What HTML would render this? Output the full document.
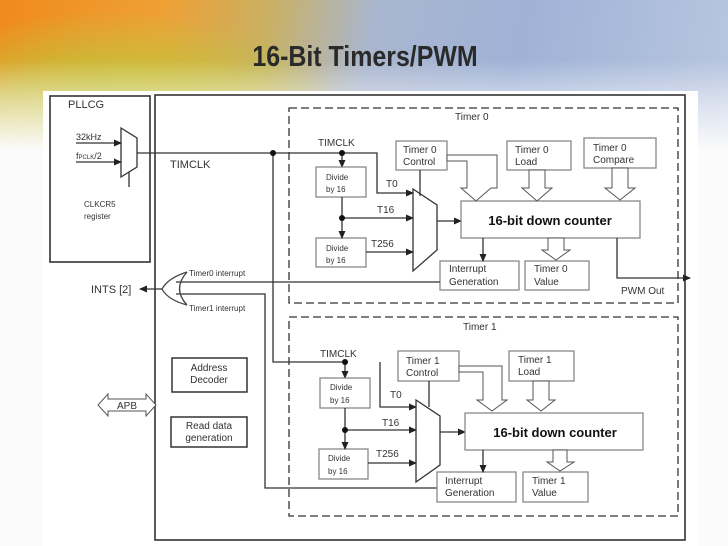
<!DOCTYPE html>
<html><head><meta charset="utf-8"><style>
html,body{margin:0;padding:0;width:728px;height:546px;overflow:hidden}
body{position:relative;background:#fbfbfc}
.top{position:absolute;left:0;top:0;width:728px;height:150px;background:linear-gradient(100deg,#f08a1c 0%,#eea035 22%,#c9b063 36%,#a9b6cf 50%,#9fb2d6 70%,#b8c6e0 100%)}
.glow{position:absolute;left:0;top:0;width:728px;height:150px;background:radial-gradient(ellipse 240px 110px at 110px 120px,#b9c632 0%,rgba(190,200,60,0.7) 50%,rgba(0,0,0,0) 100%)}
.fade{position:absolute;left:0;top:60px;width:728px;height:90px;background:linear-gradient(rgba(251,251,252,0) 0%,rgba(251,251,252,0.5) 45%,#fbfbfc 100%)}
svg{position:absolute;left:0;top:0}
text{font-family:"Liberation Sans",sans-serif;fill:#333}
</style></head><body>
<div class="top"></div><div class="glow"></div><div class="fade"></div>
<svg width="728" height="546" viewBox="0 0 728 546">
<defs><marker id="a" markerWidth="8" markerHeight="8" refX="7" refY="4" orient="auto" markerUnits="userSpaceOnUse"><path d="M0,0.5 L8,4 L0,7.5z" fill="#222"/></marker></defs>
<text x="365" y="66" text-anchor="middle" font-size="29" font-weight="bold" style="fill:#2a2a2a" transform="translate(365,0) scale(0.86,1) translate(-365,0)">16-Bit Timers/PWM</text>
<rect x="43" y="91" width="655" height="455" fill="#fff"/>
<g stroke="#333" fill="none" stroke-width="1.3">
<rect x="50" y="96" width="100" height="166" stroke-width="1.6"/>
<rect x="155" y="95" width="530" height="445" stroke-width="1.6"/>
<rect x="289" y="108" width="389" height="195" stroke-dasharray="8,4"/>
<rect x="289" y="317" width="389" height="199" stroke-dasharray="8,4"/>
<path d="M121,128 L137,138 L137,167 L121,177z"/>
<path d="M76,143 L121,143" marker-end="url(#a)"/><path d="M76,162 L121,162" marker-end="url(#a)"/>
<path d="M129,172 L129,187"/>
<path d="M137,153 L377,153 L377,193 L413,193" marker-end="url(#a)"/>
<path d="M273,153 L273,362 L345,362"/>
<path d="M342,153 L342,167" marker-end="url(#a)"/>
<rect x="316" y="167" width="50" height="30" stroke="#888"/>
<rect x="316" y="238" width="50" height="29" stroke="#888"/>
<path d="M342,197 L342,238" marker-end="url(#a)"/>
<path d="M342,218 L413,218" marker-end="url(#a)"/>
<path d="M366,252 L413,252" marker-end="url(#a)"/>
<path d="M413,189 L437,205 L437,250 L413,271z"/>
<path d="M437,221 L461,221" marker-end="url(#a)"/>
<rect x="396" y="141" width="51" height="29" stroke="#888"/>
<path d="M420,170 L420,196"/>
<rect x="507" y="141" width="64" height="29" stroke="#888"/>
<rect x="584" y="138" width="72" height="30" stroke="#888"/>
<rect x="461" y="201" width="179" height="37" stroke="#888"/>
<rect x="440" y="261" width="79" height="29" stroke="#888"/>
<rect x="525" y="261" width="64" height="29" stroke="#888"/>
<path d="M483,238 L483,261" marker-end="url(#a)"/>
<path d="M617,238 L617,278 L690,278" marker-end="url(#a)"/>
<path d="M440,282 L176,282"/><path d="M176,294 L265,294 L265,488 L437,488"/>
<path d="M187,272 Q168,278 162,289 Q168,300 187,305 M187,272 Q172,289 187,305" stroke="#444"/>
<path d="M162,289 L140,289" marker-end="url(#a)"/>
<path d="M345,362 L345,378" marker-end="url(#a)"/>
<rect x="320" y="378" width="50" height="30" stroke="#888"/>
<rect x="319" y="449" width="49" height="30" stroke="#888"/>
<path d="M345,408 L345,449" marker-end="url(#a)"/>
<path d="M345,430 L416,430" marker-end="url(#a)"/>
<path d="M368,463 L416,463" marker-end="url(#a)"/>
<path d="M380,362 L380,407 L416,407" marker-end="url(#a)"/>
<path d="M416,400 L440,416 L440,465 L416,482z"/>
<path d="M440,432 L465,432" marker-end="url(#a)"/>
<rect x="398" y="351" width="61" height="30" stroke="#888"/>
<path d="M429,381 L429,407"/>
<rect x="509" y="351" width="65" height="30" stroke="#888"/>
<rect x="465" y="413" width="178" height="37" stroke="#888"/>
<rect x="437" y="472" width="79" height="30" stroke="#888"/>
<rect x="523" y="472" width="65" height="30" stroke="#888"/>
<path d="M483,450 L483,472" marker-end="url(#a)"/>
<rect x="172" y="358" width="75" height="34" stroke-width="1.5"/>
<rect x="171" y="417" width="76" height="30" stroke-width="1.5"/>
</g>
<g stroke="#555" fill="#fff" stroke-width="1">
<path d="M447,155 L497,155 L497,188 L491,188 L476,201 L461,188 L467,188 L467,161 L447,161z"/>
<path d="M529,170 L529,188 L522,188 L537,201 L552,188 L545,188 L545,170z"/>
<path d="M612,168 L612,188 L605,188 L620,200 L635,188 L628,188 L628,168z"/>
<path d="M548,238 L548,250 L542,250 L556,260 L570,250 L564,250 L564,238z"/>
<path d="M459,366 L502,366 L502,400 L507,400 L492,411 L477,400 L483,400 L483,372 L459,372z"/>
<path d="M533,381 L533,400 L527,400 L541,411 L555,400 L549,400 L549,381z"/>
<path d="M553,450 L553,462 L547,462 L560,471 L574,462 L567,462 L567,450z"/>
<path d="M98,405 L108,394 L108,399 L146,399 L146,394 L156,405 L146,416 L146,411 L108,411 L108,416z"/>
</g>
<g font-size="10">
<text x="68" y="108" font-size="11">PLLCG</text>
<text x="76" y="140" font-size="9">32kHz</text>
<text x="76" y="159" font-size="9">f<tspan font-size="6">PCLK</tspan>/2</text>
<text x="84" y="207" font-size="8">CLKCR5</text><text x="84" y="219" font-size="8">register</text>
<text x="170" y="168" font-size="11">TIMCLK</text>
<text x="455" y="120">Timer 0</text>
<text x="318" y="146">TIMCLK</text>
<text x="326" y="180" font-size="8">Divide</text><text x="326" y="192" font-size="8">by 16</text>
<text x="326" y="251" font-size="8">Divide</text><text x="326" y="263" font-size="8">by 16</text>
<text x="386" y="187">T0</text><text x="377" y="213">T16</text><text x="371" y="247">T256</text>
<text x="403" y="153">Timer 0</text><text x="403" y="165">Control</text>
<text x="515" y="153">Timer 0</text><text x="515" y="165">Load</text>
<text x="593" y="151">Timer 0</text><text x="593" y="163">Compare</text>
<text x="550" y="225" text-anchor="middle" font-size="13" font-weight="bold" style="fill:#111">16-bit down counter</text>
<text x="449" y="272">Interrupt</text><text x="449" y="285">Generation</text>
<text x="534" y="272">Timer 0</text><text x="534" y="285">Value</text>
<text x="621" y="294">PWM Out</text>
<text x="91" y="293" font-size="11">INTS [2]</text>
<text x="189" y="276" font-size="8">Timer0 interrupt</text>
<text x="189" y="311" font-size="8">Timer1 interrupt</text>
<text x="463" y="330">Timer 1</text>
<text x="320" y="357">TIMCLK</text>
<text x="330" y="390" font-size="8">Divide</text><text x="330" y="403" font-size="8">by 16</text>
<text x="328" y="461" font-size="8">Divide</text><text x="328" y="474" font-size="8">by 16</text>
<text x="390" y="398">T0</text><text x="382" y="426">T16</text><text x="376" y="457">T256</text>
<text x="406" y="364">Timer 1</text><text x="406" y="376">Control</text>
<text x="518" y="363">Timer 1</text><text x="518" y="375">Load</text>
<text x="555" y="437" text-anchor="middle" font-size="13" font-weight="bold" style="fill:#111">16-bit down counter</text>
<text x="445" y="484">Interrupt</text><text x="445" y="496">Generation</text>
<text x="532" y="484">Timer 1</text><text x="532" y="496">Value</text>
<text x="209" y="371" text-anchor="middle">Address</text><text x="209" y="383" text-anchor="middle">Decoder</text>
<text x="209" y="429" text-anchor="middle">Read data</text><text x="209" y="441" text-anchor="middle">generation</text>
<text x="127" y="409" text-anchor="middle">APB</text>
</g>
<g fill="#111"><circle cx="273" cy="153" r="3"/><circle cx="342" cy="153" r="3"/><circle cx="342" cy="218" r="3"/><circle cx="345" cy="362" r="3"/><circle cx="345" cy="430" r="3"/></g>
</svg>
</body></html>
